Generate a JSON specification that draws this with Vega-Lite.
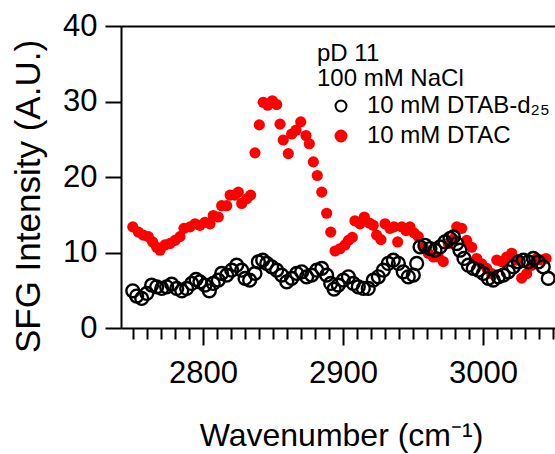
{
"$schema": "https://vega.github.io/schema/vega-lite/v6.json",
"width": 434, "height": 302,
"autosize": "none",
"padding": {"left": 121, "top": 26, "right": 0, "bottom": 126},
"config": {"font": "Liberation Sans", "view": {"stroke": null},
  "axis": {"grid": false, "domainColor": "black", "domainWidth": 2, "tickColor": "black", "tickWidth": 2, "labelColor": "black", "titleColor": "black", "labelFontSize": 31, "titleFontSize": 32, "titleFontWeight": "normal", "labelFont": "Liberation Sans", "titleFont": "Liberation Sans", "labelFlush": false, "labelOverlap": false}},
"datasets": {
 "red": [[2749.8,13.4],[2753.8,12.7],[2757.3,12.3],[2760.9,12.1],[2764.0,11.4],[2766.9,10.7],[2769.3,10.3],[2772.8,11.0],[2776.4,11.2],[2780.0,11.6],[2783.5,12.1],[2786.4,13.2],[2790.7,13.4],[2794.3,13.8],[2797.8,13.6],[2801.4,14.0],[2805.0,13.8],[2807.3,14.9],[2810.9,14.7],[2813.3,16.2],[2816.9,16.2],[2819.3,17.6],[2822.8,17.6],[2825.2,18.0],[2827.6,16.5],[2831.1,17.1],[2834.0,17.6],[2837.1,23.2],[2840.2,26.9],[2843.0,29.9],[2846.2,29.5],[2849.5,30.1],[2852.6,29.6],[2855.0,27.0],[2857.3,24.9],[2860.9,23.1],[2863.3,25.7],[2866.4,26.2],[2869.8,27.3],[2873.5,25.5],[2875.9,24.4],[2878.8,22.0],[2881.6,20.2],[2884.8,18.0],[2888.3,15.2],[2891.2,12.7],[2894.3,10.2],[2897.8,10.5],[2901.4,11.0],[2903.8,11.6],[2906.6,12.0],[2908.5,14.2],[2912.1,13.8],[2915.2,14.7],[2918.8,13.9],[2921.6,13.6],[2924.0,12.3],[2927.1,11.7],[2930.0,13.8],[2933.5,13.2],[2936.4,13.4],[2939.0,11.4],[2941.9,13.4],[2945.0,12.9],[2947.8,13.4],[2950.7,12.6],[2953.8,12.1],[2957.3,10.7],[2960.9,9.9],[2964.5,9.4],[2968.0,9.4],[2971.6,8.8],[2975.2,11.2],[2978.8,11.8],[2981.2,13.4],[2984.8,13.2],[2988.3,11.6],[2991.9,10.7],[2995.5,9.2],[2999.0,8.5],[3002.6,7.9],[3006.2,7.2],[3009.8,9.0],[3013.3,8.8],[3016.9,9.4],[3020.5,9.9],[3024.0,9.0],[3027.6,6.6],[3031.2,7.2],[3034.8,8.3],[3038.3,9.2],[3041.9,9.0],[3045.0,9.2]],
 "black": [[2749.8,4.93],[2752.6,4.23],[2756.2,3.92],[2759.8,4.58],[2763.3,5.68],[2766.9,5.46],[2770.5,5.24],[2774.0,5.46],[2777.6,5.81],[2781.2,5.24],[2784.8,4.93],[2788.3,5.24],[2791.9,5.9],[2795.0,6.43],[2797.8,6.12],[2801.4,5.68],[2804.5,4.93],[2807.3,5.9],[2810.9,6.34],[2813.3,7.23],[2816.9,7.0],[2820.5,7.66],[2824.0,8.32],[2827.6,7.66],[2830.0,6.57],[2833.3,6.34],[2837.1,7.23],[2839.5,8.76],[2842.6,8.98],[2845.5,8.55],[2849.0,8.1],[2852.6,7.66],[2856.2,7.0],[2859.8,6.12],[2863.3,6.57],[2866.9,7.23],[2870.5,7.44],[2874.0,6.78],[2877.6,7.0],[2881.2,7.66],[2884.8,7.89],[2888.3,7.0],[2891.2,5.9],[2893.6,5.15],[2896.6,5.68],[2900.2,6.34],[2903.8,6.78],[2907.3,5.9],[2910.9,5.46],[2914.5,5.24],[2918.0,5.24],[2921.6,6.34],[2925.2,6.78],[2928.8,7.66],[2932.3,8.55],[2935.9,8.98],[2939.5,8.55],[2943.0,7.44],[2946.6,6.78],[2950.2,7.0],[2952.6,8.55],[2955.0,10.74],[2958.5,10.96],[2962.1,10.53],[2965.7,10.3],[2969.3,10.74],[2972.8,11.4],[2976.4,11.85],[2978.8,12.06],[2981.2,11.19],[2983.5,10.3],[2986.4,9.21],[2989.5,8.32],[2993.0,7.89],[2996.6,7.66],[3000.2,7.23],[3003.8,6.57],[3007.3,6.34],[3010.9,6.78],[3014.5,7.0],[3018.0,7.44],[3021.6,8.1],[3025.2,8.76],[3028.8,8.98],[3032.3,8.76],[3035.9,9.21],[3039.5,8.76],[3043.0,8.1],[3046.6,6.57]]
},
"layer": [
 {"data": {"name": "red"},
  "transform": [{"calculate": "datum[0]", "as": "w"}, {"calculate": "datum[1]", "as": "v"}, {"calculate": "'10 mM DTAC'", "as": "s"}],
  "mark": {"type": "point", "shape": "circle", "size": 125, "strokeWidth": 0, "opacity": 1, "filled": true},
  "encoding": {
   "x": {"field": "w", "type": "quantitative", "scale": {"domain": [2741.4, 3051.4], "nice": false, "zero": false},
     "axis": {"orient": "bottom", "values": [2750,2760,2770,2780,2790,2800,2810,2820,2830,2840,2850,2860,2870,2880,2890,2900,2910,2920,2930,2940,2950,2960,2970,2980,2990,3000,3010,3020,3030,3040,3050], "format": "d", "labelExpr": "datum.value % 100 === 0 ? datum.label : ''", "tickSize": {"condition": {"test": "datum.value % 100 === 0", "value": 17}, "value": 11}, "labelPadding": 13, "title": "Wavenumber (cm⁻¹)", "titleX": 220, "titleY": 117, "titleBaseline": "alphabetic", "titleAnchor": null}},
   "y": {"field": "v", "type": "quantitative", "scale": {"domain": [0, 40], "nice": false},
     "axis": {"values": [0,10,20,30,40], "tickSize": 16, "labelPadding": 8, "title": "SFG Intensity (A.U.)", "titleFontSize": 35, "titleX": -82, "titleY": 170, "titleAngle": -90, "titleAlign": "center", "titleBaseline": "alphabetic"}},
   "fill": {"field": "s", "type": "nominal", "scale": {"domain": ["10 mM DTAB-d₂₅", "10 mM DTAC"], "range": ["transparent", "#ff0000"]},
     "legend": {"orient": "none", "legendX": 196, "legendY": 16, "title": ["pD 11", "100 mM NaCl"], "titleFontSize": 24, "titleFontWeight": "normal", "titleColor": "black", "titleLineHeight": 25, "titlePadding": 3, "titleFont": "Liberation Sans", "labelFont": "Liberation Sans", "labelFontSize": 24, "labelColor": "black", "labelLimit": 400, "symbolType": "circle", "symbolSize": 120, "symbolStrokeWidth": 2, "symbolOffset": 12, "labelOffset": 14, "rowPadding": 6, "padding": 0}},
   "stroke": {"field": "s", "type": "nominal", "scale": {"domain": ["10 mM DTAB-d₂₅", "10 mM DTAC"], "range": ["#000000", "#ff0000"]},
     "legend": {"orient": "none", "legendX": 196, "legendY": 16, "title": ["pD 11", "100 mM NaCl"], "titleFontSize": 24, "titleFontWeight": "normal", "titleColor": "black", "titleLineHeight": 25, "titlePadding": 3, "titleFont": "Liberation Sans", "labelFont": "Liberation Sans", "labelFontSize": 24, "labelColor": "black", "labelLimit": 400, "symbolType": "circle", "symbolSize": 120, "symbolStrokeWidth": 2, "symbolOffset": 12, "labelOffset": 14, "rowPadding": 6, "padding": 0}}
  }},
 {"data": {"name": "black"},
  "transform": [{"calculate": "datum[0]", "as": "w"}, {"calculate": "datum[1]", "as": "v"}, {"calculate": "'10 mM DTAB-d₂₅'", "as": "s"}],
  "mark": {"type": "point", "shape": "circle", "size": 165, "strokeWidth": 2.4, "opacity": 1, "filled": true},
  "encoding": {
   "x": {"field": "w", "type": "quantitative", "axis": {"orient": "top", "labels": false, "ticks": false, "title": null}},
   "y": {"field": "v", "type": "quantitative", "axis": null},
   "fill": {"field": "s", "type": "nominal"},
   "stroke": {"field": "s", "type": "nominal"}
  }}
],
"resolve": {"axis": {"x": "independent", "y": "independent"}}
}
